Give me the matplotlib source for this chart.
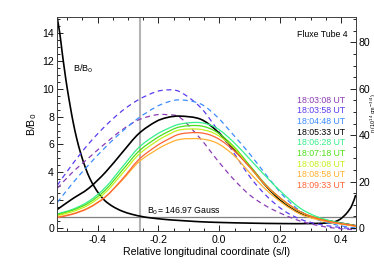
import matplotlib
matplotlib.use("Agg")
import matplotlib.pyplot as plt
from matplotlib.ticker import MultipleLocator, FuncFormatter
from matplotlib.path import Path
from matplotlib.patches import PathPatch
import numpy as np

plt.rcParams['font.family'] = ['Liberation Sans', 'DejaVu Sans']

# ---- data ----
s_grid = [-0.532, -0.483, -0.429, -0.374, -0.319, -0.265, -0.210, -0.171, -0.128, -0.062,
          -0.008, 0.047, 0.102, 0.156, 0.211, 0.266, 0.320, 0.375, 0.430, 0.448]

times = ["18:03:08 UT", "18:03:58 UT", "18:04:48 UT", "18:05:33 UT", "18:06:28 UT",
         "18:07:18 UT", "18:08:08 UT", "18:08:58 UT", "18:09:33 UT"]
colors = ["#8a3cb4", "#5a3cf0", "#3c8cff", "#000000", "#36f08a",
          "#4ee01a", "#c4f020", "#ffb030", "#ff6434"]
styles = ["--", "--", "--", "-", "-", "-", "-", "-", "-"]

n_0308 = [17.1, 23.9, 30.2, 36.5, 42.3, 46.6, 48.7, 48.8, 47.5, 38.5, 29.5, 21.0, 14.0, 9.3, 5.8, 3.0, 1.2, 0.0, -0.6, -0.8]
n_0358 = [18.4, 27.4, 36.3, 44.0, 50.5, 55.3, 58.6, 59.5, 58.6, 52.0, 42.7, 32.5, 21.8, 13.7, 7.6, 3.8, 1.8, 0.6, -0.2, -0.3]
n_0448 = [11.0, 19.1, 27.2, 34.8, 41.6, 47.4, 52.0, 54.2, 55.2, 53.5, 48.0, 40.0, 31.6, 22.5, 13.8, 7.3, 3.7, 1.6, 0.3, 0.1]
n_0533 = [8.0, 12.5, 17.1, 24.0, 32.5, 40.6, 45.7, 47.6, 48.2, 46.9, 41.8, 34.0, 26.2, 17.7, 10.8, 6.4, 4.2, 2.7, 1.4, 1.0]
n_0628 = [6.1, 8.0, 11.5, 17.5, 26.2, 34.6, 40.0, 42.7, 44.8, 45.4, 43.0, 37.0, 29.4, 21.8, 14.6, 8.5, 4.9, 2.8, 1.4, 0.8]
n_0718 = [5.8, 7.6, 10.8, 16.4, 24.8, 33.0, 38.4, 41.3, 43.6, 44.0, 41.3, 35.2, 26.6, 18.2, 11.8, 7.0, 4.3, 2.4, 1.3, 0.8]
n_0808 = [5.4, 7.0, 10.0, 15.3, 23.4, 31.6, 37.0, 40.0, 42.3, 42.5, 40.2, 34.6, 25.9, 17.8, 11.6, 6.9, 4.2, 2.4, 1.3, 0.8]
n_0858 = [4.8, 6.1, 8.8, 13.5, 20.6, 28.4, 33.4, 36.2, 38.2, 38.4, 36.6, 31.4, 23.5, 16.2, 10.4, 6.0, 3.7, 2.2, 1.1, 0.6]
n_0933 = [4.5, 5.9, 8.6, 13.4, 21.0, 29.4, 35.0, 38.0, 40.5, 41.0, 38.8, 33.5, 26.0, 18.0, 11.8, 7.0, 4.2, 2.4, 1.3, 0.8]
series = [n_0308, n_0358, n_0448, n_0533, n_0628, n_0718, n_0808, n_0858, n_0933]

# B/B0 profile
s_b = [-0.534, -0.524, -0.516, -0.508, -0.500, -0.490, -0.480, -0.468, -0.455, -0.440, -0.425,
       -0.410, -0.395, -0.375, -0.350, -0.320, -0.286, -0.253, -0.226, -0.180, -0.144, -0.100,
       -0.062, 0.000, 0.102, 0.200, 0.300, 0.364, 0.385, 0.400, 0.419, 0.435, 0.448]
b_ratio = [15.3, 14.0, 12.6, 11.3, 10.1, 8.8, 7.6, 6.4, 5.35, 4.35, 3.55,
           2.95, 2.45, 1.95, 1.55, 1.22, 0.98, 0.82, 0.73, 0.62, 0.56, 0.50,
           0.45, 0.40, 0.35, 0.32, 0.32, 0.38, 0.50, 0.68, 1.08, 1.60, 2.37]

s_ref = -0.26
b0_level = 0.77
b0_label = "B$_0$= 146.97 Gauss"


def smooth_patch(xs, ys, **kw):
    """Catmull-Rom curve through the data points, drawn in data coordinates."""
    p = np.column_stack([xs, ys]).astype(float)
    n = len(p)
    verts = [p[0]]
    codes = [Path.MOVETO]
    for i in range(n - 1):
        p0 = p[i - 1] if i > 0 else p[i]
        p1 = p[i]
        p2 = p[i + 1]
        p3 = p[i + 2] if i + 2 < n else p[i + 1]
        c1 = p1 + (p2 - p0) / 6.0
        c2 = p2 - (p3 - p1) / 6.0
        verts += [c1, c2, p2]
        codes += [Path.CURVE4] * 3
    return PathPatch(Path(verts, codes), fill=False, **kw)


# ---- figure ----
fig = plt.figure(figsize=(3.74, 2.67), dpi=100)
ax = fig.add_axes([0.1516, 0.1348, 0.7995, 0.8015])
ax2 = ax.twinx()

ax.set_xlim(-0.534, 0.448)
ax.set_ylim(-0.215, 15.15)
ax2.set_ylim(-1.29, 90.9)

ax.axvline(s_ref, color="#b4b4b4", lw=1.5, zorder=1)
ax.axhline(b0_level, color="#808080", lw=0.9, zorder=1)
ax.add_patch(smooth_patch(s_b, b_ratio, edgecolor="black", lw=1.2, zorder=3))

for ys, c, st in zip(series, colors, styles):
    lw = 1.2 if c == "#000000" else 0.9
    ls = (0, (4, 3)) if st == "--" else "-"
    ax2.add_patch(smooth_patch(s_grid, ys, edgecolor=c, lw=lw, linestyle=ls))

ax.text(-0.482, 11.4, "B/B$_0$", fontsize=6.5, va="center", ha="left")
ax.text(-0.237, 0.82, b0_label, fontsize=6.3, va="bottom", ha="left")
ax.text(0.974, 0.916, "Fluxe Tube 4", transform=ax.transAxes, fontsize=6.3,
        ha="right", va="center")
for i, (t, c) in enumerate(zip(times, colors)):
    ax.text(0.964, 0.612 - i * 0.05, t, transform=ax.transAxes, fontsize=6.3,
            ha="right", va="center", color=c)

ax.set_xlabel("Relative longitudinal coordinate (s/l)", fontsize=7.6, labelpad=1)
ax.set_ylabel("B/B$_0$", fontsize=7.6, labelpad=2)
fig.text(0.999, 0.575, "n (10$^{14}$ cm$^{-3/4}$)", rotation=90, fontsize=4,
         ha="center", va="center")

ax.xaxis.set_major_locator(MultipleLocator(0.2))
ax.xaxis.set_minor_locator(MultipleLocator(0.05))
ax.yaxis.set_major_locator(MultipleLocator(2))
ax.yaxis.set_minor_locator(MultipleLocator(0.5))
ax2.yaxis.set_major_locator(MultipleLocator(20))
ax2.yaxis.set_minor_locator(MultipleLocator(5))
ax.xaxis.set_major_formatter(FuncFormatter(lambda v, p: f"{v:.1f}".replace("-0.0", "0.0")))

ax.tick_params(axis="x", which="both", direction="in", top=True, labelsize=7.6, pad=3)
ax.tick_params(axis="y", which="both", direction="in", labelsize=7.6, pad=2)
ax.tick_params(which="major", length=4, width=0.6)
ax.tick_params(which="minor", length=2, width=0.6)
ax2.tick_params(axis="y", which="both", direction="in", labelsize=7.6, pad=2)
ax2.tick_params(which="major", length=4, width=0.6)
ax2.tick_params(which="minor", length=2, width=0.6)
for a in (ax, ax2):
    for sp in a.spines.values():
        sp.set_linewidth(0.6)
        sp.set_color("#404040")

fig.savefig("out.png", dpi=100)
